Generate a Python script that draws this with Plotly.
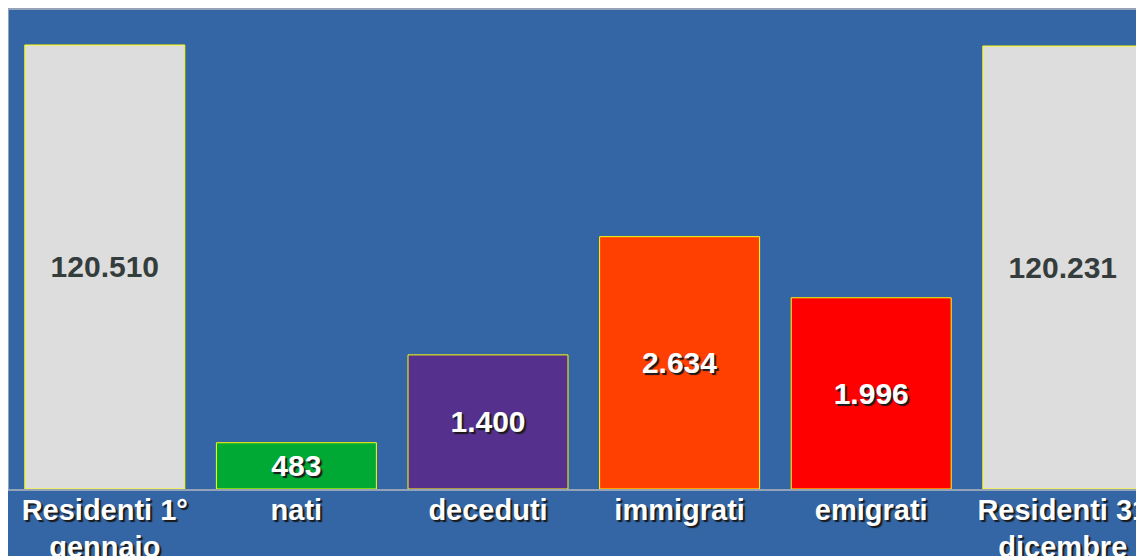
import plotly.graph_objects as go

categories = ["Residenti 1°<br>gennaio", "nati", "deceduti", "immigrati", "emigrati", "Residenti 31<br>dicembre"]
values = [120510, 483, 1400, 2634, 1996, 120231]
colors = ["#dddddd", "#00a933", "#55308d", "#ff4000", "#ff0000", "#dddddd"]
is_resident = [True, False, False, False, False, True]
RESIDENT_SCALE = 26  # residents bars drawn on a reduced scale (as in the original)


def fmt(v):
    return f"{v:,}".replace(",", ".")


fig = go.Figure()

res_idx = [i for i, r in enumerate(is_resident) if r]
flow_idx = [i for i, r in enumerate(is_resident) if not r]

fig.add_trace(go.Bar(
    x=[categories[i] for i in res_idx],
    y=[values[i] / RESIDENT_SCALE for i in res_idx],
    text=[fmt(values[i]) for i in res_idx],
    textposition="inside",
    insidetextanchor="middle",
    textangle=0,
    textfont=dict(family="Liberation Sans", size=30, color="#353c3c", weight="bold"),
    marker=dict(color=[colors[i] for i in res_idx], line=dict(color="#ffff00", width=1)),
    width=0.835,
    hoverinfo="skip",
))

fig.add_trace(go.Bar(
    x=[categories[i] for i in flow_idx],
    y=[values[i] for i in flow_idx],
    text=[fmt(values[i]) for i in flow_idx],
    textposition="inside",
    insidetextanchor="middle",
    textangle=0,
    textfont=dict(family="Liberation Sans", size=30, color="#ffffff", weight="bold",
                  shadow="2px 2px 1px #1a1a1a"),
    marker=dict(color=[colors[i] for i in flow_idx], line=dict(color="#ffff00", width=1)),
    width=0.835,
    hoverinfo="skip",
))

fig.update_layout(
    width=1137,
    height=548,
    margin=dict(l=1, r=0, t=2, b=67, autoexpand=False),
    paper_bgcolor="#3465a4",
    plot_bgcolor="#3465a4",
    barmode="overlay",
    showlegend=False,
    uniformtext=dict(mode=False),
    xaxis=dict(
        type="category",
        categoryorder="array",
        categoryarray=categories,
        range=[-0.5, 5.429],
        automargin=False,
        showline=True,
        linecolor="#94a3b8",
        linewidth=1.5,
        mirror=True,
        showgrid=False,
        ticks="",
        ticklabelstandoff=-6,
        tickfont=dict(family="Liberation Sans", size=29, color="#ffffff", weight="bold",
                      shadow="2px 2px 1px #1a1a1a"),
    ),
    yaxis=dict(
        range=[0, 5000],
        automargin=False,
        showline=True,
        linecolor="#94a3b8",
        linewidth=1.5,
        showgrid=False,
        zeroline=False,
        showticklabels=False,
        ticks="",
    ),
)

fig.write_html("out.html")
